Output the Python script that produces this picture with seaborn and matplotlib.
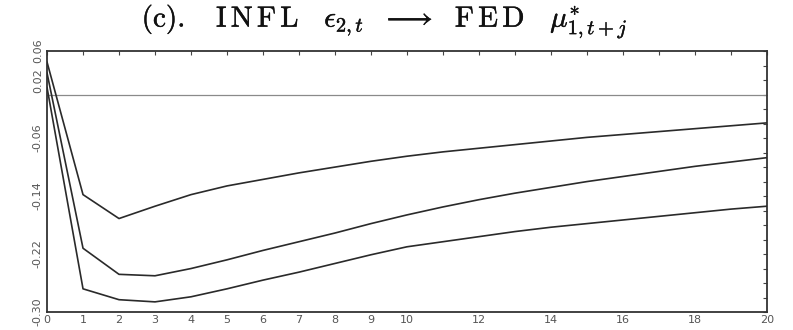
import numpy as np
import pandas as pd
import matplotlib
matplotlib.use("Agg")
import matplotlib.pyplot as plt
import matplotlib.patheffects as pe
import seaborn as sns

# Impulse response horizon j
horizon = list(range(0, 21))

# Response of FED to an INFL shock: upper band, point estimate, lower band
upper = [0.045, -0.138, -0.171, -0.154, -0.138, -0.126, -0.117, -0.108, -0.100, -0.092,
         -0.085, -0.079, -0.074, -0.069, -0.064, -0.059, -0.055, -0.051, -0.047, -0.043, -0.039]
middle = [0.030, -0.212, -0.248, -0.250, -0.240, -0.228, -0.215, -0.203, -0.191, -0.178,
          -0.166, -0.155, -0.145, -0.136, -0.128, -0.120, -0.113, -0.106, -0.099, -0.093, -0.087]
lower = [0.010, -0.268, -0.283, -0.286, -0.279, -0.268, -0.256, -0.245, -0.233, -0.221,
         -0.210, -0.203, -0.196, -0.189, -0.183, -0.178, -0.173, -0.168, -0.163, -0.158, -0.154]

x_tick_labels = ["0", "1", "2", "3", "4", "5", "6", "7", "8", "9", "10",
                 "12", "14", "16", "18", "20"]
y_tick_labels = ["0.06", "0.02", "-0.06", "-0.14", "-0.22", "-0.30"]

title = (r"$\mathrm{(c).}\ \ \ \mathrm{I\,N\,F\,L}\ \ \ \epsilon_{2,t}\ \ \longrightarrow\ \ "
         r"\mathrm{F\,E\,D}\ \ \ \mu^{*}_{1,t+j}$")

df = pd.DataFrame({
    "j": horizon * 3,
    "response": upper + middle + lower,
    "band": ["upper"] * len(upper) + ["middle"] * len(middle) + ["lower"] * len(lower),
})

sns.set_style("white")
plt.rcParams["mathtext.fontset"] = "cm"
plt.rcParams["font.family"] = ["DejaVu Sans"]

fig = plt.figure(figsize=(7.93, 3.30), dpi=100)
ax = fig.add_axes([0.0593, 0.0545, 0.9077, 0.7905])

ax.axhline(0.0, color="#8a8a8a", linewidth=0.9, zorder=1)
sns.lineplot(data=df, x="j", y="response", hue="band",
             palette={"upper": "#2a2a2a", "middle": "#2a2a2a", "lower": "#2a2a2a"},
             linewidth=1.2, legend=False, ax=ax, zorder=3)

ax.set_xlim(0, 20)
ax.set_ylim(-0.30, 0.06)

ax.set_xticks(horizon)
ax.set_xticklabels([str(j) if str(j) in x_tick_labels else "" for j in horizon])

y_ticks = np.round(np.arange(-0.30, 0.0601, 0.02), 2)
ax.set_yticks(y_ticks)
ax.set_yticklabels([f"{v:.2f}" if f"{v:.2f}" in y_tick_labels else "" for v in y_ticks],
                   rotation=90, va="center")

ax.tick_params(axis="both", direction="in", length=3, width=0.8, colors="#444444",
               labelsize=8, labelcolor="#555555", top=True, right=True, pad=3)
ax.tick_params(axis="x", pad=2)

for s in ax.spines.values():
    s.set_color("#333333")
    s.set_linewidth(1.3)

ax.set_xlabel("")
ax.set_ylabel("")
fig.text(0.485, 0.935, title, ha="center", va="center", fontsize=21, color="#111111",
         path_effects=[pe.withStroke(linewidth=0.3, foreground="#111111")])

fig.savefig("out.png", dpi=100, facecolor="white")
